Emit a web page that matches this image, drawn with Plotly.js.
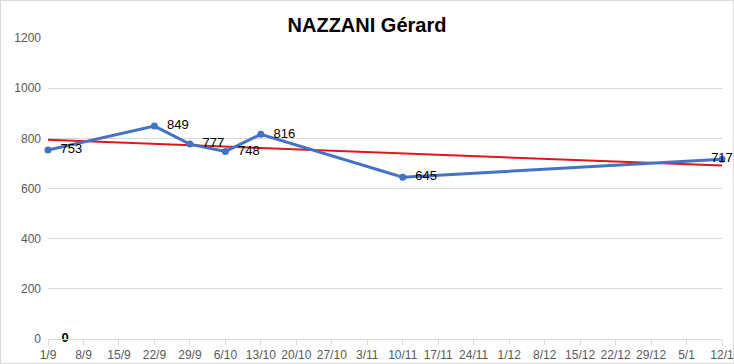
<!DOCTYPE html>
<html>
<head>
<meta charset="utf-8">
<script src="https://cdn.plot.ly/plotly-3.0.1.min.js"></script>
<style>
  html, body { margin: 0; padding: 0; background: #fff; }
  #chart { width: 732px; height: 362px; border: 1px solid #d9d9d9; }
</style>
</head>
<body>
<div id="chart"></div>
<script>
// Data
const dates = ['2019-09-01', '2019-09-22', '2019-09-29', '2019-10-06', '2019-10-13', '2019-11-10', '2020-01-12'];
const values = [753, 849, 777, 748, 816, 645, 717];
const labelPositions = ['middle right', 'middle right', 'middle right', 'middle right', 'middle right', 'middle right', 'middle center'];
const labelPads = ['\u00a0\u00a0', '\u00a0\u00a0', '\u00a0\u00a0', '\u00a0\u00a0', '\u00a0\u00a0', '\u00a0\u00a0', ''];

// Stray bold zero label near the start of the axis
const zeroDates = ['2019-09-04 09:00'];
const zeroValues = [0];

// Weekly tick labels
const tickDates = ['2019-09-01','2019-09-08','2019-09-15','2019-09-22','2019-09-29','2019-10-06','2019-10-13','2019-10-20','2019-10-27','2019-11-03','2019-11-10','2019-11-17','2019-11-24','2019-12-01','2019-12-08','2019-12-15','2019-12-22','2019-12-29','2020-01-05','2020-01-12'];
const tickLabels = ['1/9','8/9','15/9','22/9','29/9','6/10','13/10','20/10','27/10','3/11','10/11','17/11','24/11','1/12','8/12','15/12','22/12','29/12','5/1','12/1'];

// Linear trendline (least squares over the series)
const t = dates.map(d => new Date(d + 'T00:00:00Z').getTime() / 86400000);
const n = t.length;
const mx = t.reduce((a, b) => a + b, 0) / n;
const my = values.reduce((a, b) => a + b, 0) / n;
let sxy = 0, sxx = 0;
for (let i = 0; i < n; i++) { sxy += (t[i] - mx) * (values[i] - my); sxx += (t[i] - mx) ** 2; }
const slope = sxy / sxx;
const trendX = [dates[0], dates[n - 1]];
const trendY = [my + slope * (t[0] - mx), my + slope * (t[n - 1] - mx)];

const FONT = 'Liberation Sans, Arial, sans-serif';

const traces = [
  {
    x: trendX, y: trendY, type: 'scatter', mode: 'lines',
    line: { color: '#e0161b', width: 2 }, hoverinfo: 'skip'
  },
  {
    x: dates, y: values, type: 'scatter', mode: 'lines+markers+text',
    line: { color: '#4472C4', width: 3 },
    marker: { color: '#4472C4', size: 7 },
    text: values.map((v, i) => labelPads[i] + v), textposition: labelPositions,
    textfont: { family: FONT, size: 13, color: '#000' },
    cliponaxis: false, hoverinfo: 'x+y'
  },
  {
    x: zeroDates, y: zeroValues, type: 'scatter', mode: 'text',
    text: zeroValues.map(v => '<b>' + v + '</b>'), textposition: 'middle center',
    textfont: { family: FONT, size: 13, color: '#000' },
    cliponaxis: false, hoverinfo: 'skip'
  }
];

const layout = {
  width: 732, height: 362,
  margin: { l: 47, r: 11, t: 37, b: 24 },
  paper_bgcolor: '#fff', plot_bgcolor: '#fff',
  showlegend: false,
  title: {
    text: '<b>NAZZANI Gérard</b>',
    font: { family: FONT, size: 20, color: '#000' },
    x: 0.5, xanchor: 'center', y: 0.935, yanchor: 'middle', yref: 'container'
  },
  xaxis: {
    type: 'date', range: [dates[0], dates[n - 1]],
    tickvals: tickDates, ticktext: tickLabels,
    ticks: 'outside', ticklen: 5, tickcolor: '#d9d9d9', tickwidth: 1,
    showline: true, linecolor: '#d9d9d9', linewidth: 1,
    showgrid: false, zeroline: false,
    ticklabeloverflow: 'allow',
    tickfont: { family: FONT, size: 12, color: '#595959' }
  },
  yaxis: {
    range: [0, 1200], dtick: 200, tick0: 0,
    showgrid: true, gridcolor: '#d9d9d9', gridwidth: 1,
    zeroline: false, showline: false, ticks: '',
    ticklabelstandoff: 6,
    tickfont: { family: FONT, size: 12, color: '#595959' }
  }
};

Plotly.newPlot('chart', traces, layout, { displayModeBar: false, staticPlot: true });
</script>
</body>
</html>
